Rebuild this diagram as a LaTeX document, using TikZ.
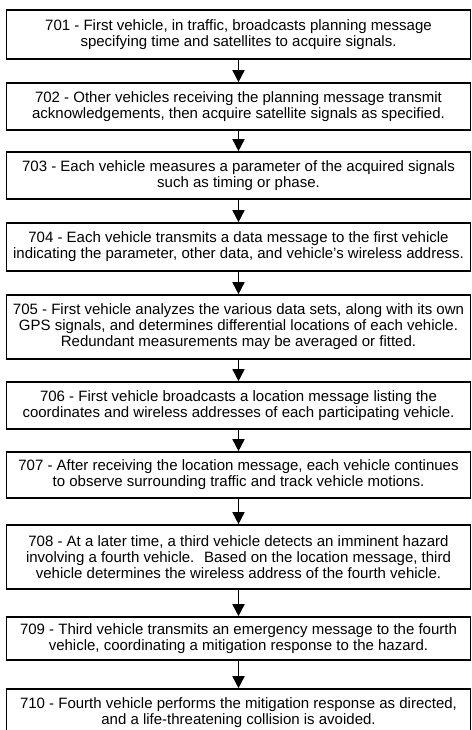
\documentclass[tikz,border=0pt]{standalone}
\usepackage{fontspec}
\setmainfont{Liberation Sans}
\usetikzlibrary{arrows.meta}
\tikzset{
  stepbox/.style={draw, line width=1.6pt, minimum width=464pt, align=center,
    inner sep=0pt, font=\fontsize{15}{16}\selectfont},
  flow/.style={line width=1.6pt, -{Triangle[width=12pt,length=12pt]}}
}
\begin{document}
\begin{tikzpicture}[x=1pt,y=-1pt]
  % Frame
  \useasboundingbox (0,0) rectangle (471,730);
  \clip (0,0) rectangle (471,730);

  % Steps
  \node[stepbox, minimum height=49pt] (s701) at (238.5,34.5)
    {701 - First vehicle, in traffic, broadcasts planning message\\
     specifying time and satellites to acquire signals.};
  \node[stepbox, minimum height=47pt] (s702) at (238.5,106.5)
    {702 - Other vehicles receiving the planning message transmit\\
     acknowledgements, then acquire satellite signals as specified.};
  \node[stepbox, minimum height=47pt] (s703) at (238.5,175.5)
    {703 - Each vehicle measures a parameter of the acquired signals\\
     such as timing or phase.};
  \node[stepbox, minimum height=48pt] (s704) at (238.5,247)
    {704 - Each vehicle transmits a data message to the first vehicle\\
     indicating the parameter, other data, and vehicle's wireless address.};
  \node[stepbox, minimum height=64pt] (s705) at (238.5,327)
    {705 - First vehicle analyzes the various data sets, along with its own\\
     GPS signals, and determines differential locations of each vehicle.\\
     Redundant measurements may be averaged or fitted.};
  \node[stepbox, minimum height=47pt] (s706) at (238.5,405.5)
    {706 - First vehicle broadcasts a location message listing the\\
     coordinates and wireless addresses of each participating vehicle.};
  \node[stepbox, minimum height=46pt] (s707) at (238.5,475)
    {707 - After receiving the location message, each vehicle continues\\
     to observe surrounding traffic and track vehicle motions.};
  \node[stepbox, minimum height=64pt] (s708) at (238.5,557)
    {708 - At a later time, a third vehicle detects an imminent hazard\\
     involving a fourth vehicle.~ Based on the location message, third\\
     vehicle determines the wireless address of the fourth vehicle.};
  \node[stepbox, minimum height=43pt] (s709) at (238.5,638.5)
    {709 - Third vehicle transmits an emergency message to the fourth\\
     vehicle, coordinating a mitigation response to the hazard.};
  \node[stepbox, minimum height=47pt] (s710) at (238.5,712.5)
    {710 - Fourth vehicle performs the mitigation response as directed,\\
     and a life-threatening collision is avoided.};

  % Arrows
  \draw[flow] (s701) -- (s702);
  \draw[flow] (s702) -- (s703);
  \draw[flow] (s703) -- (s704);
  \draw[flow] (s704) -- (s705);
  \draw[flow] (s705) -- (s706);
  \draw[flow] (s706) -- (s707);
  \draw[flow] (s707) -- (s708);
  \draw[flow] (s708) -- (s709);
  \draw[flow] (s709) -- (s710);
\end{tikzpicture}
\end{document}
